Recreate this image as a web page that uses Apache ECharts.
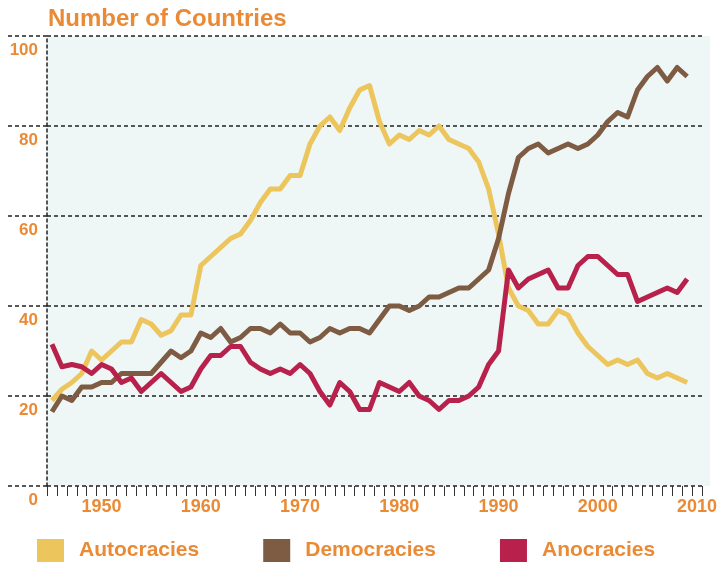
<!DOCTYPE html>
<html>
<head>
<meta charset="utf-8">
<script src="https://cdn.jsdelivr.net/npm/echarts@6/dist/echarts.min.js"></script>
<style>
  html, body { margin: 0; padding: 0; background: #fff; }
  #chart { width: 722px; height: 563px; }
</style>
</head>
<body>
<div id="chart"></div>
<script>
  // years on the axis, one band per year
  const years = []
  for (let y = 1945; y <= 2010; y++) years.push(String(y))

  const yTicks = [0, 20, 40, 60, 80, 100]

  // number of countries, 1945 - 2009
  const autocracies = [
    19, 21.5, 23, 25, 30,
    28, 30, 32, 32, 37,
    36, 33.5, 34.5, 38, 38,
    49, 51, 53, 55, 56,
    59, 63, 66, 66, 69,
    69, 76, 80, 82, 79,
    84, 88, 89, 81, 76,
    78, 77, 79, 78, 80,
    77, 76, 75, 72, 66,
    56, 44, 40, 39, 36,
    36, 39, 38, 34, 31,
    29, 27, 28, 27, 28,
    25, 24, 25, 24, 23
  ]
  const democracies = [
    16.5, 20, 19, 22, 22,
    23, 23, 25, 25, 25,
    25, 27.5, 30, 28.5, 30,
    34, 33, 35, 32, 33,
    35, 35, 34, 36, 34,
    34, 32, 33, 35, 34,
    35, 35, 34, 37, 40,
    40, 39, 40, 42, 42,
    43, 44, 44, 46, 48,
    55, 65, 73, 75, 76,
    74, 75, 76, 75, 76,
    78, 81, 83, 82, 88,
    91, 93, 90, 93, 91
  ]
  const anocracies = [
    31.5, 26.5, 27, 26.5, 25,
    27, 26, 23, 24, 21,
    23, 25, 23, 21, 22,
    26, 29, 29, 31, 31,
    27.5, 26, 25, 26, 25,
    27, 25, 21, 18, 23,
    21, 17, 17, 23, 22,
    21, 23, 20, 19, 17,
    19, 19, 20, 22, 27,
    30, 48, 44, 46, 47,
    48, 44, 44, 49, 51,
    51, 49, 47, 47, 41,
    42, 43, 44, 43, 46
  ]

  const orange = '#EA8A35'
  const font = '"Liberation Sans", Arial, sans-serif'

  const myChart = echarts.init(document.getElementById('chart'))

  const lineSeries = (name, data, color) => ({
    name,
    type: 'line',
    xAxisIndex: 1,
    yAxisIndex: 1,
    data,
    symbol: 'none',
    color,
    lineStyle: { width: 5, color, join: 'round' },
    animation: false
  })

  let option = {
    backgroundColor: '#fff',
    title: {
      text: 'Number of Countries',
      left: 43,
      top: 2,
      textStyle: { color: orange, fontSize: 24, fontWeight: 'bold', fontFamily: font }
    },
    legend: {
      left: 37,
      top: 539,
      padding: 0,
      icon: 'rect',
      itemWidth: 27,
      itemHeight: 23,
      itemGap: 64,
      data: ['Autocracies', 'Democracies', 'Anocracies'],
      textStyle: { color: orange, fontSize: 21, fontWeight: 'bold', fontFamily: font, padding: [0, 0, 0, 10] }
    },
    grid: [
      // background panel, a bit wider than the axis
      { left: 47, right: 12, top: 36, bottom: 77, show: true, backgroundColor: '#EFF6F6', borderWidth: 0 },
      { left: 47, right: 20, top: 36, bottom: 77 }
    ],
    xAxis: [
      { gridIndex: 0, type: 'value', show: false, min: 0, max: 1 },
      {
        gridIndex: 1,
        type: 'category',
        data: years,
        boundaryGap: true,
        axisLine: { show: false },
        axisTick: { show: true, interval: 0, length: 10, lineStyle: { color: '#333', width: 1 } },
        axisLabel: {
          interval: (i, v) => +v % 10 === 0,
          margin: 12,
          color: orange,
          fontSize: 18,
          fontWeight: 'bold',
          fontFamily: font
        },
        splitLine: { show: false }
      }
    ],
    yAxis: [
      { gridIndex: 0, type: 'value', show: false, min: 0, max: 1 },
      {
        gridIndex: 1,
        type: 'value',
        min: yTicks[0],
        max: yTicks[yTicks.length - 1],
        interval: 20,
        axisLine: { show: true, lineStyle: { color: '#222', width: 1.5, type: [3, 3] } },
        axisTick: { show: true, length: 40, lineStyle: { color: '#222', width: 1.5, type: [4, 3] } },
        axisLabel: {
          margin: 9,
          verticalAlign: 'top',
          padding: [6, 0, 0, 0],
          color: orange,
          fontSize: 17,
          fontWeight: 'bold',
          fontFamily: font
        },
        splitLine: { show: true, lineStyle: { color: '#222', width: 1.5, type: [4, 3] } }
      }
    ],
    series: [
      lineSeries('Autocracies', autocracies, '#ECC65C'),
      lineSeries('Democracies', democracies, '#7D5C43'),
      lineSeries('Anocracies', anocracies, '#B8214B')
    ]
  }
  myChart.setOption(option)
</script>
</body>
</html>
